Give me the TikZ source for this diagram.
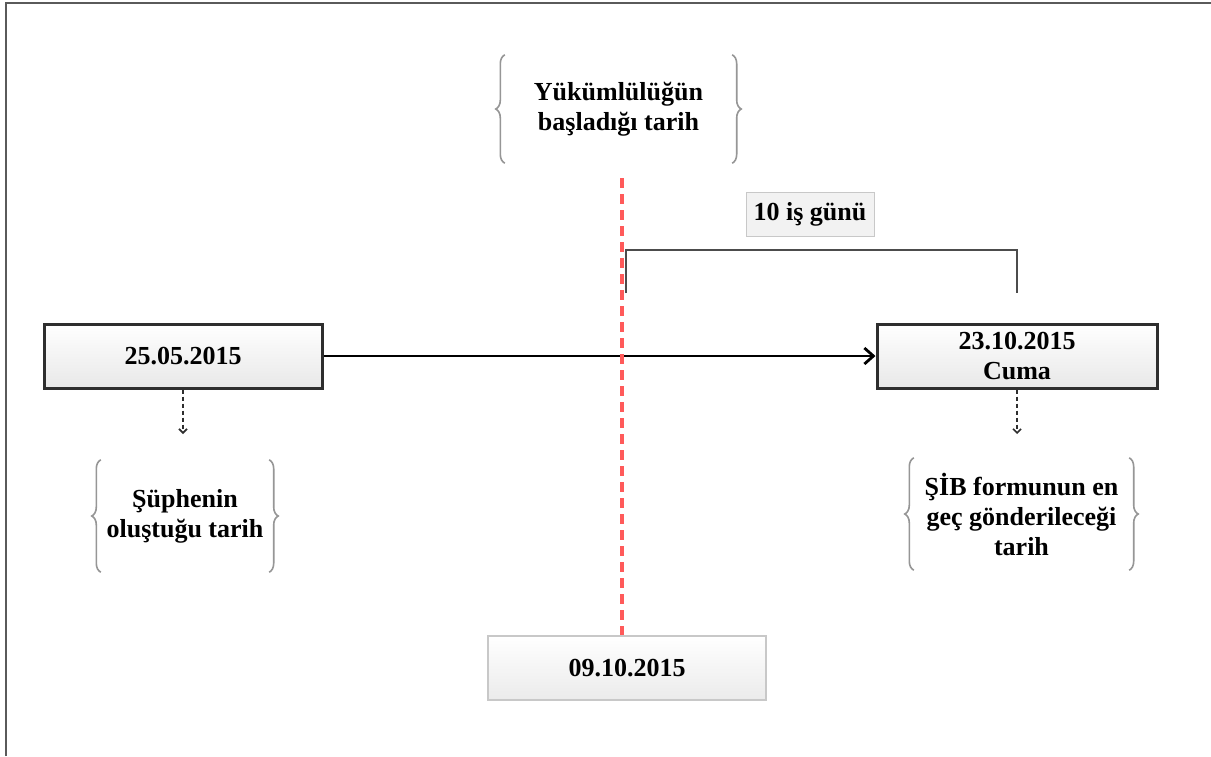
\documentclass[tikz,border=0pt]{standalone}
\usepackage{fontspec}
\setmainfont{Liberation Serif}
\usetikzlibrary{arrows.meta,decorations.pathreplacing}
\definecolor{boxborder}{HTML}{2E2E2E}
\definecolor{lightborder}{HTML}{C8C8C8}
\definecolor{redline}{HTML}{FF5A5A}
\definecolor{bracegray}{HTML}{969696}
\definecolor{framegray}{HTML}{5A5A5A}
\begin{document}
\begin{tikzpicture}[x=1pt,y=-1pt,
  txt/.style={font=\fontsize{26}{30}\selectfont\bfseries, align=center, inner sep=0pt},
  datebox/.style={txt, draw=boxborder, line width=3pt, top color=white, bottom color=black!9, minimum width=278pt, minimum height=64pt},
  softbox/.style={txt, draw=lightborder, line width=1.5pt, top color=white, bottom color=black!8, minimum width=278pt, minimum height=64pt},
  labelbox/.style={txt, draw=lightborder, line width=1pt, fill=black!5, minimum width=128pt, minimum height=44pt},
  bracetext/.style={txt},
  bracepath/.style={draw=bracegray, line width=1.6pt, decorate, decoration={brace, amplitude=9pt}},
  mainarrow/.style={line width=2.8pt, black, -{Straight Barb[length=9pt,width=16pt,line width=2.8pt]}},
  dasharrow/.style={line width=2pt, boxborder, dash pattern=on 4pt off 3pt, -{Straight Barb[length=4pt,width=8pt,line width=1.6pt]}},
  redstyle/.style={line width=4pt, redline, dash pattern=on 10pt off 6pt},
  bracketstyle/.style={line width=2.5pt, black!70},
  framestyle/.style={line width=2.2pt, framegray}
]
\fill[white] (0,0) rectangle (1211,756);
\useasboundingbox (0,0) rectangle (1211,756);
\draw[framestyle] (6,756) -- (6,3) -- (1211,3);

% main nodes
\node[datebox] (A) at (183,356) {25.05.2015};
\node[datebox, minimum width=280pt] (B) at (1017,356) {23.10.2015\\Cuma};
\node[softbox] (C) at (627,668) {09.10.2015};
\node[labelbox] (D) at (810,214) {10 iş günü};

% brace texts
\node[bracetext, minimum width=227pt, minimum height=108pt] (T) at (618.5,109) {Yükümlülüğün\\başladığı tarih};
\node[bracetext, minimum width=168pt, minimum height=112pt] (L) at (185,516) {Şüphenin\\oluştuğu tarih};
\node[bracetext, minimum width=215pt, minimum height=112pt] (R) at (1021.5,514) {ŞİB formunun en\\geç gönderileceği\\tarih};

\foreach \n in {T,L,R}{
  \draw[bracepath] (\n.south west) -- (\n.north west);
  \draw[bracepath] (\n.north east) -- (\n.south east);
}

% connectors
\draw[mainarrow] (A.east) -- (B.west);
\coordinate (a1) at (183,434);
\coordinate (b1) at (1017,434);
\draw[dasharrow] (A.south) -- (a1);
\draw[dasharrow] (B.south) -- (b1);

% red dashed line
\coordinate (rtop) at (622,178);
\draw[redstyle] (rtop) -- (rtop |- C.north);

% bracket
\coordinate (k1) at (626,293);
\coordinate (k2) at (1017,293);
\draw[bracketstyle] (k1) -- ++(0,-43) -| (k2);
\end{tikzpicture}
\end{document}
